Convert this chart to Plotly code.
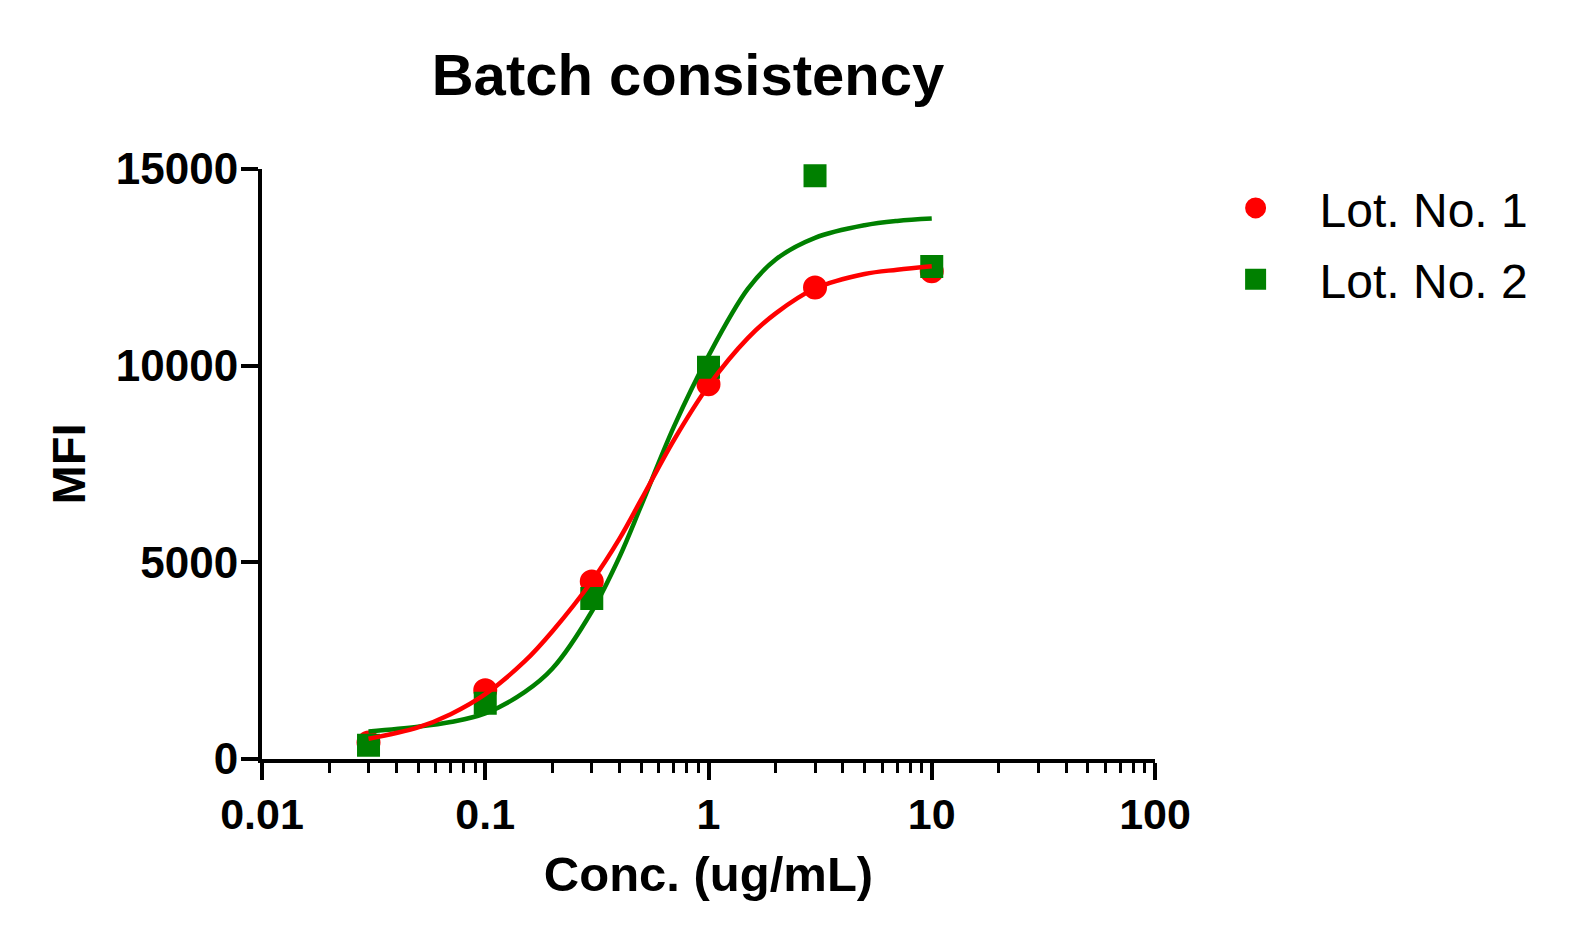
import plotly.graph_objects as go

# ---- data ----
conc = [0.03, 0.1, 0.3, 1, 3, 10]
lot1_mfi = [420, 1750, 4510, 9530, 11990, 12400]
lot2_mfi = [350, 1420, 4080, 9960, 14830, 12520]

# fitted curves
lot1_fit_x = [0.03, 0.05, 0.07, 0.1, 0.15, 0.2, 0.3, 0.4, 0.5, 0.7, 1, 1.5, 2, 3, 5, 7, 10]
lot1_fit_y = [515, 805, 1140, 1650, 2480, 3250, 4520, 5610, 6600, 8110, 9490, 10700, 11330, 11960, 12330, 12440, 12530]
lot2_fit_x = [0.03, 0.05, 0.07, 0.1, 0.15, 0.2, 0.3, 0.4, 0.5, 0.7, 1, 1.5, 2, 3, 5, 7, 10]
lot2_fit_y = [700, 820, 940, 1160, 1700, 2300, 3750, 5150, 6450, 8450, 10250, 11950, 12700, 13250, 13570, 13680, 13740]

x_tickvals = [0.01, 0.1, 1, 10, 100]
x_ticktext = ["0.01", "0.1", "1", "10", "100"]
y_tickvals = [0, 5000, 10000, 15000]
y_ticktext = ["0", "5000", "10000", "15000"]

series_names = ["Lot. No. 1", "Lot. No. 2"]
RED = "#FF0000"
GREEN = "#008000"
FONT = "Liberation Sans, Arial, sans-serif"

minor_vals = []
for dec in x_tickvals[:-1]:
    for k in range(2, 10):
        minor_vals.append(round(dec * k, 6))

fig = go.Figure()

fig.add_trace(go.Scatter(x=conc, y=lot1_mfi, mode="markers", name=series_names[0],
                         legendgroup="a",
                         marker=dict(symbol="circle", size=19, color=RED,
                                     line=dict(color=RED, width=5)),
                         cliponaxis=False))
fig.add_trace(go.Scatter(x=conc, y=lot2_mfi, mode="markers", name=series_names[1],
                         legendgroup="b",
                         marker=dict(symbol="square", size=18, color=GREEN,
                                     line=dict(color=GREEN, width=5)),
                         cliponaxis=False))
fig.add_trace(go.Scatter(x=lot2_fit_x, y=lot2_fit_y, mode="lines", showlegend=False,
                         line=dict(color=GREEN, width=4.5, shape="spline", smoothing=1.0),
                         cliponaxis=False, hoverinfo="skip"))
fig.add_trace(go.Scatter(x=lot1_fit_x, y=lot1_fit_y, mode="lines", showlegend=False,
                         line=dict(color=RED, width=4.5, shape="spline", smoothing=1.0),
                         cliponaxis=False, hoverinfo="skip"))

fig.update_layout(
    width=1573, height=946,
    margin=dict(l=262, r=418, t=169, b=187),
    paper_bgcolor="white", plot_bgcolor="white",
    font=dict(family=FONT, color="black"),
    title=dict(text="Batch consistency", x=688 / 1573, xanchor="center",
               y=1 - 75 / 946, yanchor="middle",
               font=dict(size=58, family=FONT, weight="bold", color="black")),
    legend=dict(x=1.041, y=0.998, xanchor="left", yanchor="top",
                font=dict(size=48, family=FONT, color="black"),
                itemsizing="trace", itemwidth=118, tracegroupgap=6,
                bgcolor="rgba(0,0,0,0)"),
    showlegend=True,
)

fig.update_xaxes(
    type="log", range=[-2, 2],
    tickmode="array", tickvals=x_tickvals, ticktext=x_ticktext,
    ticks="outside", ticklen=17, tickwidth=4, tickcolor="black",
    showline=True, linewidth=4, linecolor="black",
    showgrid=False, zeroline=False,
    ticklabelstandoff=-3,
    tickfont=dict(size=43, family=FONT, weight="bold", color="black"),
    title=dict(text="Conc. (ug/mL)", standoff=21,
               font=dict(size=49, family=FONT, weight="bold", color="black")),
    minor=dict(tickmode="array", tickvals=minor_vals, ticks="outside",
               ticklen=10, tickwidth=3, tickcolor="black", showgrid=False),
)

fig.update_yaxes(
    range=[0, 15000],
    tickmode="array", tickvals=y_tickvals, ticktext=y_ticktext,
    ticks="outside", ticklen=17, tickwidth=4, tickcolor="black",
    showline=True, linewidth=4, linecolor="black",
    showgrid=False, zeroline=False,
    ticklabelstandoff=-6,
    tickfont=dict(size=44, family=FONT, weight="bold", color="black"),
    title=dict(text="MFI", standoff=16,
               font=dict(size=47, family=FONT, weight="bold", color="black")),
)

fig.write_html("out.html")
